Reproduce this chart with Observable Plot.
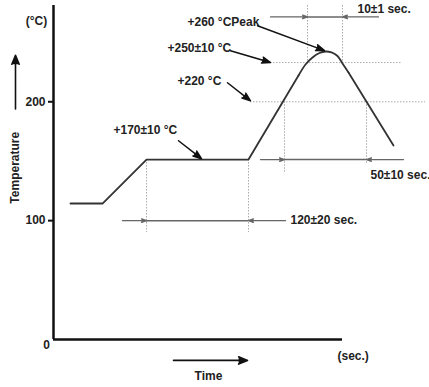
<!DOCTYPE html>
<html><head><meta charset="utf-8">
<script src="https://cdn.jsdelivr.net/npm/d3@7"></script>
<script src="https://cdn.jsdelivr.net/npm/@observablehq/plot@0.6"></script>
<style>body{margin:0;background:#fff}</style>
</head><body><div id="chart"></div>
<script>
// Reflow profile (time in s, temperature in °C)
const rampTime = [17, 49, 93, 195, 245];
const rampTemp = [114.4, 114.4, 151.4, 151.4, 222.1];
const peakTime = [245, 252, 259, 266, 272, 278, 284, 289, 295];
const peakTemp = [222.1, 231.4, 237.3, 241.0, 242.3, 241.5, 238.5, 232.2, 224.6];
const coolTime = [295, 340];
const coolTemp = [224.6, 163.2];

const yTicks = [100, 200];
const yTickLabels = ["100", "200"];

// dotted guide levels / instants
const levelTemps = [233, 200];
const levelFrom = [217, 197];
const levelTo = [349, 372];
const guideTimes = [93, 195, 231, 313, 254, 289];
const guideTop = [151.4, 151.4, 200, 200, 281, 281];
const guideBottom = [90, 90, 140, 148, 233, 233];

// dimension spans
const spanLabels = ["10±1 sec.", "120±20 sec.", "50±10 sec."];
const spanStart = [254, 93, 231];
const spanEnd = [289, 195, 313];
const spanTemp = [271.4, 100, 151.4];

// callouts
const calloutLabels = ["+260 °CPeak", "+250±10 °C", "+220 °C", "+170±10 °C"];

const F = "Liberation Sans, Arial, Helvetica, sans-serif";

const levels = levelTemps.map((y, i) => ({y, x1: levelFrom[i], x2: levelTo[i]}));
const guides = guideTimes.map((x, i) => ({x, y1: guideTop[i], y2: guideBottom[i]}));
const spanOuter = [[217, 325], [69, 232], [207, 350]];
const spans = spanLabels.map((label, i) => ({label, a: spanStart[i], b: spanEnd[i], y: spanTemp[i], o1: spanOuter[i][0], o2: spanOuter[i][1]}));
const spanText = [{x: 304, y: 278}, {x: 237, y: 100}, {x: 317, y: 138.5}];
const callouts = [
  {label: calloutLabels[0], tx: 134, ty: 267, x1: 204, y1: 263.9, x2: 271, y2: 243},
  {label: calloutLabels[1], tx: 114, ty: 245, x1: 177, y1: 242.9, x2: 217, y2: 233},
  {label: calloutLabels[2], tx: 124, ty: 217.5, x1: 174, y1: 216, x2: 197, y2: 200.8},
  {label: calloutLabels[3], tx: 60, ty: 176.5, x1: 125, y1: 167.2, x2: 148, y2: 152.1}
];

const ramp = rampTime.map((t, i) => ({t, v: rampTemp[i]}));
const peak = peakTime.map((t, i) => ({t, v: peakTemp[i]}));
const cool = coolTime.map((t, i) => ({t, v: coolTemp[i]}));

const txt = {fontSize: 12, fontWeight: "bold", fill: "#222"};

const chart = Plot.plot({
  width: 429, height: 387,
  marginLeft: 53, marginRight: 87, marginTop: 5, marginBottom: 48,
  x: {domain: [0, 289], axis: null},
  y: {domain: [0, 281], axis: null},
  style: {fontFamily: F, background: "#fff"},
  marks: [
    // dotted guides
    Plot.ruleY(levels, {y: "y", x1: "x1", x2: "x2", stroke: "#aaa", strokeDasharray: "1.5,1.5"}),
    Plot.ruleX(guides, {x: "x", y1: "y1", y2: "y2", stroke: "#aaa", strokeDasharray: "1.5,1.5"}),
    // dimension lines
    Plot.ruleY(spans, {y: "y", x1: "a", x2: "b", stroke: "#666", strokeWidth: 1.5}),
    Plot.arrow(spans, {x1: "o1", x2: "a", y1: "y", y2: "y", stroke: "#666", fill: "#666", strokeWidth: 1.3, headLength: 6, headAngle: 40}),
    Plot.arrow(spans, {x1: "o2", x2: "b", y1: "y", y2: "y", stroke: "#666", fill: "#666", strokeWidth: 1.3, headLength: 6, headAngle: 40}),
    Plot.text(spans, {x: (d, i) => spanText[i].x, y: (d, i) => spanText[i].y, text: "label", textAnchor: "start", ...txt}),
    // profile
    Plot.line(ramp, {x: "t", y: "v", stroke: "#333", strokeWidth: 1.8}),
    Plot.line(peak, {x: "t", y: "v", stroke: "#333", strokeWidth: 1.8, curve: "catmull-rom"}),
    Plot.line(cool, {x: "t", y: "v", stroke: "#333", strokeWidth: 1.8}),
    // callouts
    Plot.arrow(callouts, {x1: "x1", y1: "y1", x2: "x2", y2: "y2", stroke: "#111", fill: "#111", strokeWidth: 1.5, headLength: 9, headAngle: 40}),
    Plot.text(callouts, {x: "tx", y: "ty", text: "label", textAnchor: "start", ...txt}),
    // axes
    Plot.ruleX([0], {y1: 0, y2: 281, stroke: "#111", strokeWidth: 2.5}),
    Plot.ruleY([0], {x1: 0, x2: 289, stroke: "#111", strokeWidth: 2.5}),
    Plot.ruleY(yTicks, {x1: -5, x2: 0, stroke: "#111", strokeWidth: 2}),
    Plot.text(yTicks, {x: -8, y: d => d, text: (d, i) => yTickLabels[i], textAnchor: "end", ...txt}),
    Plot.text(["0"], {x: -7, y: -5, text: d => d, ...txt}),
    Plot.text(["(°C)"], {x: -17, y: 268, text: d => d, ...txt}),
    Plot.text(["(sec.)"], {x: 284, y: -14, text: d => d, textAnchor: "start", ...txt}),
    Plot.text(["Time"], {x: 155, y: -31, text: d => d, ...txt}),
    Plot.text(["Temperature"], {x: -38, y: 144.5, text: d => d, rotate: -90, ...txt}),
    Plot.arrow([0], {x1: 120, x2: 194, y1: -17.6, y2: -17.6, stroke: "#111", fill: "#111", strokeWidth: 1.6, headLength: 9, headAngle: 45}),
    Plot.arrow([0], {x1: -38, x2: -38, y1: 194, y2: 239, stroke: "#111", fill: "#111", strokeWidth: 1.6, headLength: 9, headAngle: 45})
  ]
});
document.getElementById("chart").appendChild(chart);
</script>
</body></html>
